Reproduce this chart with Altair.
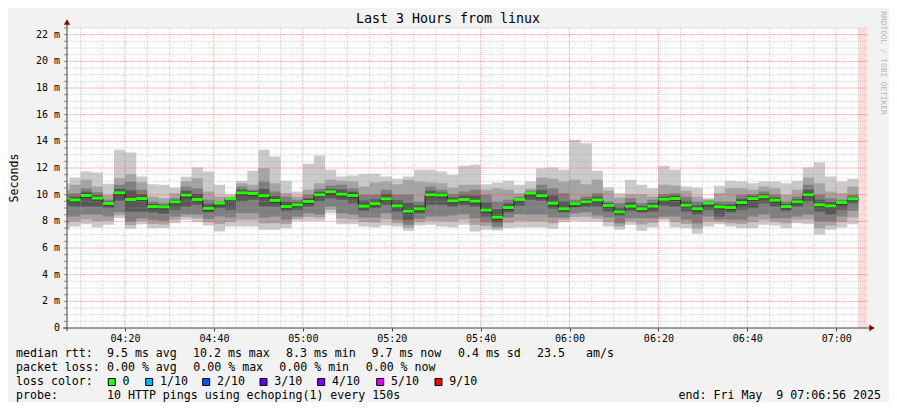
import altair as alt
import pandas as pd

# ---------------- data (ms, one value per 150 s bin, first bin starts 04:05:00) ----------------
p10 = [10.86, 11.29, 11.74, 11.66, 10.81, 13.36, 13.16, 11.36, 10.79, 10.74, 10.54, 11.34, 12.04, 11.74, 10.74, 10.04,
       11.04, 11.79, 13.36, 12.86, 11.04, 10.24, 12.32, 12.94, 11.86, 11.36, 11.44, 11.56, 11.56, 11.36, 11.19, 11.36,
       11.86, 11.86, 11.74, 11.49, 12.16, 12.24, 10.79, 10.91, 11.04, 10.74, 10.99, 11.99, 12.04, 11.86, 14.11, 13.86,
       11.79, 10.56, 10.11, 11.11, 10.74, 10.49, 12.16, 11.86, 10.61, 10.54, 9.74, 10.66, 11.04, 10.99, 10.86, 10.99,
       10.99, 10.86, 11.04, 12.06, 12.44, 11.36, 10.99, 11.19]
p9 = [10.36, 10.74, 11.11, 10.61, 9.99, 11.24, 11.54, 10.94, 9.86, 9.74, 10.11, 10.99, 11.24, 10.24, 9.86, 9.86,
      10.86, 10.74, 11.99, 10.86, 10.11, 9.86, 10.36, 10.86, 11.11, 11.04, 10.99, 10.61, 10.91, 10.99, 10.79, 11.11,
      10.99, 10.91, 10.86, 10.54, 10.74, 10.74, 10.36, 10.49, 10.36, 10.11, 10.44, 11.29, 11.19, 10.99, 11.11, 10.79,
      11.11, 10.29, 9.79, 10.04, 10.04, 9.86, 10.74, 10.69, 10.29, 9.86, 9.64, 10.11, 10.49, 10.49, 10.36, 10.61,
      10.49, 9.99, 10.36, 11.29, 10.86, 10.24, 10.11, 10.61]
p8 = [10.04, 10.11, 10.49, 10.19, 9.61, 10.74, 10.99, 10.36, 9.49, 9.36, 9.74, 10.61, 10.49, 9.61, 9.49, 9.74,
      10.61, 10.36, 10.99, 10.24, 9.86, 9.61, 9.99, 10.44, 10.69, 10.74, 10.49, 9.99, 9.99, 10.36, 9.99, 9.99,
      9.49, 10.61, 10.36, 10.04, 10.24, 10.36, 9.99, 9.49, 9.61, 9.86, 10.29, 10.74, 10.49, 10.11, 9.61, 9.86,
      10.11, 9.49, 9.36, 9.74, 9.36, 9.61, 10.04, 10.11, 9.86, 9.49, 9.54, 9.49, 9.49, 9.99, 10.04, 10.24,
      9.99, 9.49, 9.86, 10.74, 9.99, 9.74, 9.61, 9.99]
p7 = [9.89, 9.86, 10.21, 9.96, 9.48, 10.44, 10.32, 10.04, 9.30, 9.22, 9.60, 10.29, 10.06, 9.29, 9.44, 9.73,
      10.38, 10.23, 10.45, 9.90, 9.49, 9.43, 9.74, 10.22, 10.45, 10.39, 10.22, 9.57, 9.65, 10.03, 9.60, 9.38,
      9.21, 10.30, 10.16, 9.79, 9.94, 9.94, 9.41, 8.90, 9.33, 9.75, 10.20, 10.33, 9.93, 9.53, 9.46, 9.66,
      9.86, 9.34, 9.04, 9.44, 9.15, 9.38, 9.85, 9.92, 9.54, 9.21, 9.45, 9.29, 9.26, 9.70, 9.88, 10.04,
      9.79, 9.30, 9.66, 10.36, 9.61, 9.45, 9.52, 9.84]
p6 = [9.86, 9.74, 10.06, 9.86, 9.46, 10.27, 9.76, 9.84, 9.24, 9.21, 9.59, 10.09, 9.76, 9.09, 9.41, 9.71,
      10.27, 10.22, 10.04, 9.69, 9.24, 9.36, 9.61, 10.11, 10.34, 10.16, 10.06, 9.26, 9.44, 9.81, 9.29, 8.89,
      9.06, 10.11, 10.09, 9.66, 9.76, 9.64, 8.97, 8.44, 9.16, 9.74, 10.19, 10.04, 9.49, 9.06, 9.41, 9.59,
      9.74, 9.31, 8.84, 9.26, 9.06, 9.26, 9.79, 9.84, 9.34, 9.06, 9.44, 9.21, 9.16, 9.54, 9.84, 9.96,
      9.71, 9.24, 9.59, 10.11, 9.36, 9.29, 9.50, 9.81]
median = [9.74, 9.61, 9.94, 9.74, 9.34, 10.14, 9.64, 9.71, 9.11, 9.09, 9.46, 9.97, 9.64, 8.97, 9.36, 9.69,
          10.14, 10.09, 9.92, 9.57, 9.11, 9.24, 9.49, 9.99, 10.22, 10.04, 9.94, 9.14, 9.32, 9.69, 9.16, 8.76,
          8.94, 9.99, 9.97, 9.54, 9.64, 9.52, 8.84, 8.31, 9.04, 9.64, 10.11, 9.92, 9.36, 8.94, 9.32, 9.46,
          9.61, 9.19, 8.71, 9.14, 8.94, 9.14, 9.66, 9.71, 9.21, 8.94, 9.36, 9.09, 9.04, 9.41, 9.71, 9.84,
          9.59, 9.11, 9.46, 9.99, 9.24, 9.16, 9.41, 9.69]
p5 = [9.56, 9.44, 9.76, 9.56, 9.16, 9.96, 9.46, 9.54, 8.94, 8.91, 9.29, 9.79, 9.46, 8.79, 9.19, 9.51,
      9.96, 9.91, 9.74, 9.39, 8.94, 9.06, 9.31, 9.82, 10.04, 9.86, 9.76, 8.97, 9.14, 9.51, 8.99, 8.59,
      8.76, 9.82, 9.79, 9.36, 9.46, 9.34, 8.66, 8.14, 8.86, 9.46, 9.94, 9.74, 9.19, 8.76, 9.14, 9.29,
      9.44, 9.01, 8.54, 8.97, 8.76, 8.97, 9.49, 9.54, 9.04, 8.76, 9.19, 8.91, 8.86, 9.24, 9.54, 9.66,
      9.41, 8.94, 9.29, 9.82, 9.06, 8.99, 9.24, 9.51]
p4 = [9.19, 9.11, 9.11, 9.11, 8.99, 9.54, 8.74, 8.74, 8.69, 8.56, 8.86, 9.11, 9.24, 8.69, 8.99, 8.86,
      9.49, 9.61, 9.11, 9.11, 8.79, 8.86, 9.11, 9.49, 9.74, 9.61, 9.36, 8.79, 8.99, 9.24, 8.74, 8.11,
      8.61, 9.24, 9.24, 9.11, 9.24, 9.11, 8.36, 7.94, 8.69, 9.19, 9.61, 9.54, 8.94, 8.69, 9.04, 9.11,
      9.11, 8.74, 8.44, 8.79, 8.69, 8.74, 9.19, 9.11, 8.74, 8.49, 8.86, 8.36, 8.69, 8.86, 8.99, 9.36,
      9.11, 8.79, 9.11, 9.49, 8.74, 8.49, 8.86, 9.36]
p3 = [8.36, 8.36, 8.49, 8.49, 8.36, 8.69, 7.99, 8.24, 8.11, 8.04, 8.36, 8.54, 8.49, 8.19, 8.36, 8.29,
      8.61, 8.61, 8.29, 8.36, 8.11, 8.36, 8.61, 8.49, 9.11, 8.61, 8.49, 8.29, 8.29, 8.61, 8.11, 7.74,
      8.19, 8.36, 8.36, 8.44, 8.54, 8.24, 7.94, 7.59, 8.29, 8.54, 8.49, 8.49, 8.29, 8.29, 8.61, 8.69,
      8.44, 8.29, 7.86, 8.24, 8.24, 8.24, 8.36, 8.36, 8.11, 7.86, 8.36, 8.11, 8.11, 8.11, 8.36, 8.49,
      8.24, 8.24, 8.36, 8.49, 7.99, 7.99, 8.36, 8.79]
p2 = [7.86, 7.99, 8.14, 8.01, 8.04, 8.46, 7.72, 8.01, 7.80, 7.77, 8.11, 8.33, 8.22, 7.94, 7.80, 7.95,
      8.11, 8.11, 7.83, 7.86, 7.80, 8.20, 8.33, 8.27, 8.86, 8.20, 8.14, 7.95, 7.92, 8.15, 7.86, 7.52,
      7.94, 8.05, 7.99, 7.99, 8.14, 7.74, 7.65, 7.45, 7.89, 8.04, 8.01, 8.01, 7.85, 8.11, 8.33, 8.34,
      8.22, 7.95, 7.61, 7.99, 7.77, 7.89, 8.20, 7.95, 7.80, 7.47, 7.99, 7.95, 7.86, 7.80, 7.93, 8.11,
      7.97, 7.86, 8.11, 8.14, 7.49, 7.68, 7.95, 8.29]
p1 = [7.36, 7.61, 7.79, 7.54, 7.74, 8.24, 7.44, 7.79, 7.49, 7.49, 7.86, 8.11, 7.94, 7.69, 7.24, 7.61,
      7.61, 7.61, 7.36, 7.36, 7.49, 8.04, 8.04, 8.04, 8.61, 7.79, 7.79, 7.61, 7.54, 7.69, 7.61, 7.29,
      7.69, 7.74, 7.61, 7.54, 7.74, 7.24, 7.36, 7.31, 7.49, 7.54, 7.54, 7.54, 7.42, 7.94, 8.04, 7.99,
      7.99, 7.61, 7.36, 7.74, 7.29, 7.54, 8.04, 7.54, 7.49, 7.06, 7.61, 7.79, 7.61, 7.49, 7.49, 7.74,
      7.69, 7.49, 7.86, 7.79, 6.99, 7.36, 7.54, 7.79]

loss_labels = ["0", "1/10", "2/10", "3/10", "4/10", "5/10", "9/10"]
loss_colors = ["#26ff00", "#00b8ff", "#0059ff", "#5e00ff", "#7e00ff", "#dd00ff", "#ff0000"]
smoke_colors = ["#cacaca", "#a4a4a4", "#7e7e7e", "#585858", "#323232"]

y_labels = [0, 2, 4, 6, 8, 10, 12, 14, 16, 18, 20, 22]
y_label_text = ["0\u00a0\u00a0", "2 m", "4 m", "6 m", "8 m", "10 m", "12 m", "14 m", "16 m", "18 m", "20 m", "22 m"]
y_ticks = [i * 0.5 for i in range(46)]
y_major = [float(v) for v in range(2, 23, 2)]
y_minor = [v for v in y_ticks if v > 0 and v % 2 != 0]

# ---------------- tables ----------------
n = len(median)
starts = pd.date_range("2025-05-09 04:05:00", periods=n, freq="150s")
ends = starts + pd.Timedelta(seconds=150)
iso = lambda ts: ts.strftime("%Y-%m-%dT%H:%M:%S")
pings = [p1, p2, p3, p4, p5, p6, p7, p8, p9, p10]
rows = []
for i in range(n):
    r = {"t": iso(starts[i]), "t2": iso(ends[i]), "med": median[i]}
    for k in range(10):
        r["p%d" % (k + 1)] = pings[k][i]
    rows.append(r)
last = dict(rows[-1])
last["t"] = iso(ends[-1])
smoke = pd.DataFrame(rows + [last])
bins = pd.DataFrame(rows)

grid_times = pd.date_range("2025-05-09 04:10:00", "2025-05-09 07:05:00", freq="5min")
x_major = pd.DataFrame({"t": [iso(t) for t in grid_times if t.minute % 20 == 0]})
x_minor = pd.DataFrame({"t": [iso(t) for t in grid_times if t.minute % 20 != 0]})
ymaj_df = pd.DataFrame({"v": y_major})
ymin_df = pd.DataFrame({"v": y_minor})
ytick_df = pd.DataFrame({"v": y_ticks})
ylab_df = pd.DataFrame({"v": y_labels, "lab": y_label_text})
unknown = pd.DataFrame({"t": ["2025-05-09T07:05:00"], "t2": ["2025-05-09T07:06:56"]})
one = pd.DataFrame({"a": [0]})


def dt(h, m, s=0):
    return alt.DateTime(year=2025, month=5, date=9, hours=h, minutes=m, seconds=s)


xscale = alt.Scale(domain=[dt(4, 6, 56), dt(7, 6, 56)])
yscale = alt.Scale(domain=[0, 22.5], nice=False, zero=False)
FONT = "DejaVu Sans Mono"

xaxis = alt.Axis(values=[dt(h, m) for h, m in [(4, 20), (4, 40), (5, 0), (5, 20), (5, 40), (6, 0), (6, 20), (6, 40), (7, 0)]],
                 format="%H:%M", title=None, grid=False, domain=False, tickSize=3, tickColor="#404040",
                 labelFont=FONT, labelFontSize=10, labelColor="#000000", labelPadding=2,
                 labelOverlap=False, labelFlush=False)
yaxis = alt.Axis(labels=False, ticks=False, domain=False, grid=False, title=None)


def X(f):
    return alt.X(f, type="temporal", scale=xscale, axis=xaxis)


def Y(f):
    return alt.Y(f, type="quantitative", scale=yscale, axis=yaxis)


layers = []
# unknown-data band
layers.append(alt.Chart(unknown).mark_rect(color="#ffdcdc").encode(
    x=X("t"), x2="t2:T", y=alt.value(0), y2=alt.value(300)))
# smoke
for k in range(5):
    layers.append(alt.Chart(smoke).mark_area(interpolate="step-after", color=smoke_colors[k], clip=True).encode(
        x=X("t"), y=Y("p%d" % (k + 1)), y2="p%d:Q" % (10 - k)))
# grid
layers.append(alt.Chart(x_minor).mark_rule(color="#a8a8a8", opacity=0.5, strokeDash=[1, 1]).encode(x=X("t")))
layers.append(alt.Chart(ymin_df).mark_rule(color="#a8a8a8", opacity=0.5, strokeDash=[1, 1]).encode(y=Y("v")))
layers.append(alt.Chart(x_major).mark_rule(color="#ff0000", opacity=0.35, strokeDash=[1, 1]).encode(x=X("t")))
layers.append(alt.Chart(ymaj_df).mark_rule(color="#ff0000", opacity=0.35, strokeDash=[1, 1]).encode(y=Y("v")))
# y ticks and labels
layers.append(alt.Chart(ytick_df).mark_rule(color="#8a8a8a", strokeWidth=1).encode(
    y=Y("v"), x=alt.value(-3), x2=alt.value(0)))
layers.append(alt.Chart(ylab_df).mark_text(font=FONT, fontSize=10, align="right", baseline="middle",
                                           color="#000000").encode(
    y=Y("v"), x=alt.value(-7), text="lab:N"))
# median
layers.append(alt.Chart(smoke).mark_line(interpolate="step-after", color="#202020", strokeWidth=1, clip=True).encode(
    x=X("t"), y=Y("med")))
layers.append(alt.Chart(bins).mark_rule(color=loss_colors[0], strokeWidth=3, clip=True).encode(
    x=X("t"), x2="t2:T", y=Y("med")))
# axis lines and arrows
layers.append(alt.Chart(one).mark_rule(color="#404040", strokeWidth=1).encode(
    x=alt.value(0), y=alt.value(303), y2=alt.value(-4)))
layers.append(alt.Chart(one).mark_rule(color="#404040", strokeWidth=1).encode(
    x=alt.value(-4), x2=alt.value(803), y=alt.value(300)))
layers.append(alt.Chart(one).mark_point(shape="triangle-up", filled=True, color="#8b0000", size=40, opacity=1).encode(
    x=alt.value(0), y=alt.value(-6)))
layers.append(alt.Chart(one).mark_point(shape="triangle-right", filled=True, color="#8b0000", size=40, opacity=1).encode(
    x=alt.value(805), y=alt.value(300)))


def txt(s, x, y, size=11.6, align="left", angle=0, color="#000000"):
    return alt.Chart(one).mark_text(font=FONT, fontSize=size, align=align, baseline="middle",
                                    angle=angle, color=color).encode(
        text=alt.value(s), x=alt.value(x), y=alt.value(y))


texts = [
    ("Last 3 Hours from linux", 381, -9, 13.3, "center", 0, "#000000"),
    ("Seconds", -52, 150, 11.6, "center", 270, "#000000"),
    ("RRDTOOL / TOBI OETIKER", 816, 35, 7.8, "center", 90, "#b4b4b4"),
    ("median rtt:", -51, 326), ("9.5 ms avg", 40, 326), ("10.2 ms max", 126, 326),
    ("8.3 ms min", 219, 326), ("9.7 ms now", 304.5, 326), ("0.4 ms sd", 391, 326),
    ("23.5", 470, 326), ("am/s", 519, 326),
    ("packet loss:", -51, 340), ("0.00 % avg", 40, 340), ("0.00 % max", 126.3, 340),
    ("0.00 % min", 212.3, 340), ("0.00 % now", 298.7, 340),
    ("loss color:", -51, 354),
    ("probe:", -51, 368), ("10 HTTP pings using echoping(1) every 150s", 40, 368),
    ("end: Fri May\u00a0\u00a09 07:06:56 2025", 814, 368, 11.6, "right", 0, "#000000"),
]
for t in texts:
    layers.append(txt(*t))

sq_left = [41.3, 78.7, 135.7, 193, 250.7, 309.7, 368]
for i, lab in enumerate(loss_labels):
    layers.append(alt.Chart(one).mark_rect(fill=loss_colors[i], stroke="#000000", strokeWidth=1).encode(
        x=alt.value(sq_left[i]), x2=alt.value(sq_left[i] + 7), y=alt.value(350.5), y2=alt.value(357.5)))
    layers.append(txt(lab, sq_left[i] + 14.3, 354))

chart = alt.layer(*layers).properties(
    width=800, height=300,
    autosize=alt.AutoSizeParams(type="none"),
    padding={"left": 59, "top": 20, "right": 22, "bottom": 74},
).configure(background="#f2f2f2").configure_view(fill="#ffffff", strokeWidth=0)

chart.save("out.html", embed_options={"renderer": "svg", "actions": False})
